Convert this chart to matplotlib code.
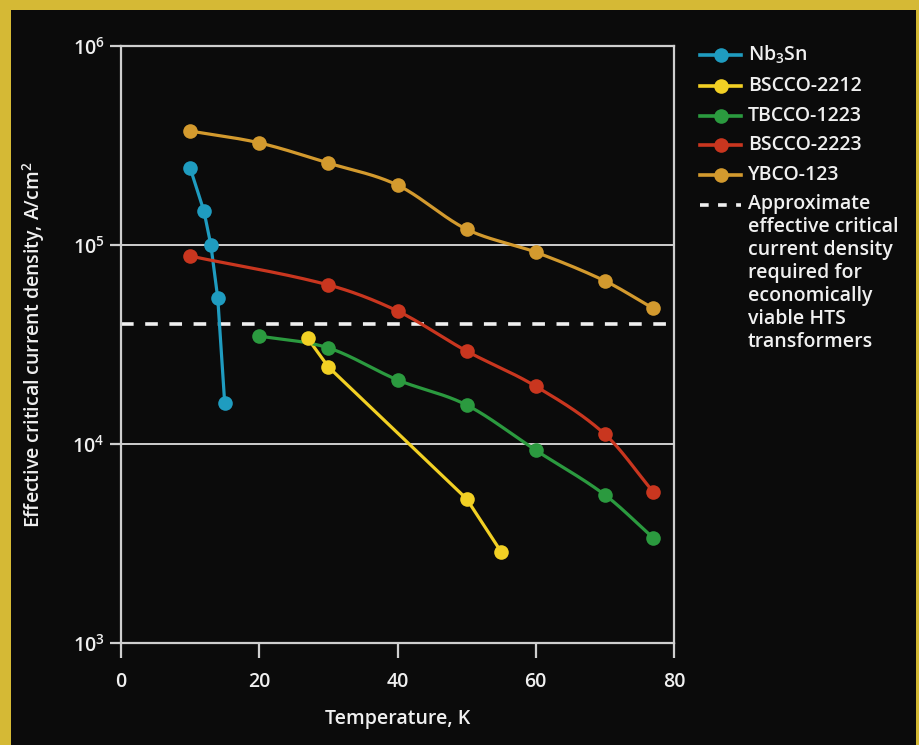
import numpy as np
import matplotlib
matplotlib.use("Agg")
import matplotlib.pyplot as plt
from matplotlib.lines import Line2D
from matplotlib.patches import Rectangle

plt.rcParams['font.family'] = ['Open Sans', 'DejaVu Sans']
plt.rcParams['font.weight'] = 'semibold'
plt.rcParams['mathtext.default'] = 'regular'

# ---- data ----
nb3sn_T = [10, 12, 13, 14, 15]
nb3sn_J = [2.44e5, 1.48e5, 1.0e5, 5.4e4, 1.61e4]

bscco2212_T = [27, 30, 50, 55]
bscco2212_J = [3.4e4, 2.44e4, 5.3e3, 2.87e3]

tbcco1223_T = [20, 30, 40, 50, 60, 70, 77]
tbcco1223_J = [3.49e4, 3.04e4, 2.1e4, 1.57e4, 9.3e3, 5.55e3, 3.37e3]

bscco2223_T = [10, 30, 40, 50, 60, 70, 77]
bscco2223_J = [8.8e4, 6.3e4, 4.66e4, 2.93e4, 1.95e4, 1.12e4, 5.74e3]

ybco123_T = [10, 20, 30, 40, 50, 60, 70, 77]
ybco123_J = [3.74e5, 3.26e5, 2.58e5, 2.0e5, 1.2e5, 9.2e4, 6.6e4, 4.8e4]

threshold_J = 4.0e4

series_names = ['Nb$_3$Sn', 'BSCCO-2212', 'TBCCO-1223', 'BSCCO-2223', 'YBCO-123']
series_T = [nb3sn_T, bscco2212_T, tbcco1223_T, bscco2223_T, ybco123_T]
series_J = [nb3sn_J, bscco2212_J, tbcco1223_J, bscco2223_J, ybco123_J]
series_smooth = [False, False, True, True, True]
colors = ['#1f9cc0', '#f2d024', '#2b9a3f', '#c9361f', '#d39a2e']
threshold_label = ("Approximate\neffective critical\ncurrent density\n"
                   "required for\neconomically\nviable HTS\ntransformers")


def hermite_smooth(x, y, xn):
    """Catmull-Rom style cubic Hermite curve through the points."""
    x = np.asarray(x, float); y = np.asarray(y, float)
    n = len(x)
    h = np.diff(x)
    m = np.zeros(n)
    m[0] = (y[1] - y[0]) / h[0]
    m[-1] = (y[-1] - y[-2]) / h[-1]
    for i in range(1, n - 1):
        m[i] = (y[i + 1] - y[i - 1]) / (x[i + 1] - x[i - 1])
    out = np.empty_like(xn)
    for j, xv in enumerate(xn):
        k = min(max(np.searchsorted(x, xv) - 1, 0), n - 2)
        t = (xv - x[k]) / h[k]
        h00 = 2 * t**3 - 3 * t**2 + 1; h10 = t**3 - 2 * t**2 + t
        h01 = -2 * t**3 + 3 * t**2; h11 = t**3 - t**2
        out[j] = h00 * y[k] + h10 * h[k] * m[k] + h01 * y[k + 1] + h11 * h[k] * m[k + 1]
    return out


W, H = 919, 745
fig = plt.figure(figsize=(W / 100, H / 100), dpi=100)
fig.patch.set_facecolor('#d5b935')
fig.patches.append(Rectangle((11 / W, 0), (916 - 11) / W, (H - 10) / H,
                             transform=fig.transFigure, facecolor='#0b0b0b',
                             edgecolor='none', zorder=-5))

ax = fig.add_axes([121 / W, 1 - 643 / H, (674 - 121) / W, (643 - 46) / H])
ax.set_zorder(2)
ax.set_facecolor('none')
ax.set_yscale('log')
ax.set_xlim(0, 80)
ax.set_ylim(1e3, 1e6)

fg = '#f0f0f0'
for s in ax.spines.values():
    s.set_color('#cfcfcf'); s.set_linewidth(1.6)
ax.set_xticks([0, 20, 40, 60, 80])
ax.tick_params(axis='x', direction='out', length=11, width=1.6, color='#cfcfcf',
               labelcolor=fg, labelsize=14, pad=10)
ax.tick_params(axis='y', which='major', direction='out', length=8, width=1.6,
               color='#cfcfcf', labelcolor=fg, labelsize=14, pad=4)
ax.tick_params(axis='y', which='minor', length=0)
for lab in ax.get_xticklabels() + ax.get_yticklabels():
    lab.set_fontweight('semibold')
for yv in [1e4, 1e5]:
    ax.axhline(yv, color='#cfcfcf', lw=1.4, zorder=1)

ax.set_xlabel('Temperature, K', color=fg, fontsize=14, labelpad=12, fontweight='semibold')
ax.set_ylabel('Effective critical current density, A/cm$^2$', color=fg,
              fontsize=14, labelpad=18, fontweight='semibold')

ax.axhline(threshold_J, color='#f0f0f0', lw=2.6, ls=(0, (3.5, 3.2)), zorder=2)

for name, T, J, c, sm in zip(series_names, series_T, series_J, colors, series_smooth):
    if sm:
        Tn = np.linspace(T[0], T[-1], 300)
        Jn = 10 ** hermite_smooth(T, np.log10(J), Tn)
    else:
        Tn, Jn = T, J
    ax.plot(Tn, Jn, color=c, lw=2.3, zorder=3, solid_capstyle='round')
    ax.plot(T, J, 'o', color=c, ms=10.5, zorder=4, mec='none')

# ---- manual legend (figure pixel coordinates) ----
def fx(px):
    return px / W

def fy(py):
    return 1 - py / H

ys = [55, 86, 116, 145, 175]
for name, c, yp in zip(series_names, colors, ys):
    fig.add_artist(Line2D([fx(700), fx(741)], [fy(yp), fy(yp)], color=c, lw=2.6))
    fig.add_artist(Line2D([fx(720.5)], [fy(yp)], marker='o', ms=10.5, color=c, mec='none'))
    fig.text(fx(748), fy(yp), name, color=fg, fontsize=14, va='center', ha='left')

yd = 205
fig.add_artist(Line2D([fx(700), fx(741)], [fy(yd), fy(yd)], color='#f0f0f0', lw=2.6,
                      ls=(0, (2.4, 2.6))))
fig.text(fx(748), fy(yd - 11), threshold_label, color=fg, fontsize=14, va='top',
         ha='left', linespacing=1.2)

fig.savefig('out.png', dpi=100, facecolor=fig.get_facecolor())
